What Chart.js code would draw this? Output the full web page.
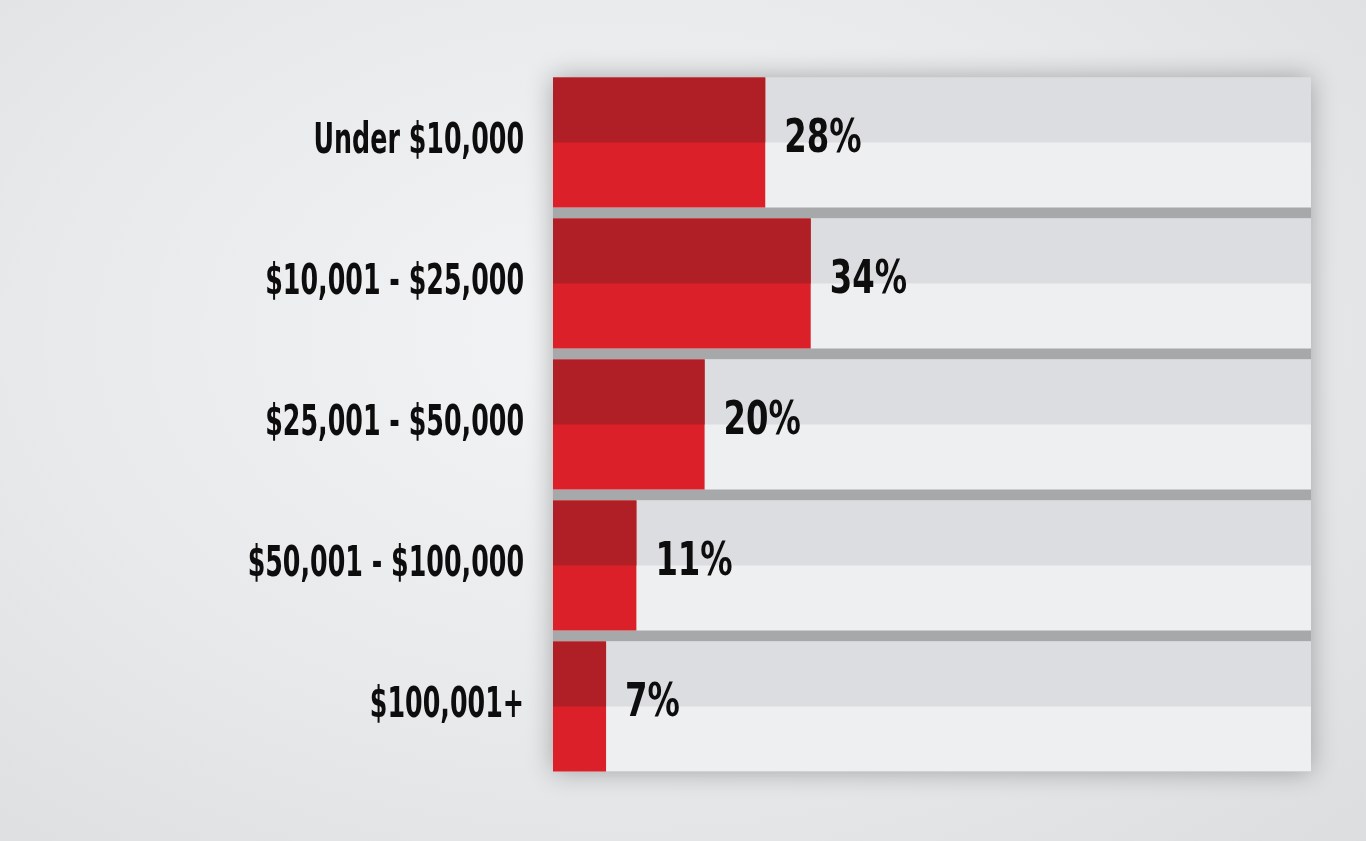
<!DOCTYPE html>
<html lang="en">

<head>
  <meta charset="UTF-8">
  <title>Income Distribution</title>
  <style>
    html, body {
      margin: 0;
      padding: 0;
    }

    body {
      width: 1366px;
      height: 841px;
      overflow: hidden;
      background: radial-gradient(ellipse at 45% 40%, #f3f4f5 0%, #e8e9eb 55%, #dcdddf 100%);
    }

    .chart-container {
      position: relative;
      width: 1366px;
      height: 841px;
    }
  </style>
</head>

<body>
  <div class="chart-container">
    <canvas id="incomeChart"></canvas>
  </div>

  <script src="https://cdn.jsdelivr.net/npm/chart.js"></script>
  <script>
    const categories = ['Under $10,000', '$10,001 - $25,000', '$25,001 - $50,000', '$50,001 - $100,000', '$100,001+'];
    const shares = [28, 34, 20, 11, 7];
    const track = [100, 100, 100, 100, 100];

    const FONT = '"DejaVu Sans Condensed", "DejaVu Sans", sans-serif';

    // draw condensed text (the original uses a narrow DIN-like face)
    function narrowText(ctx, text, x, y, squeeze) {
      ctx.save();
      ctx.translate(x, y);
      ctx.scale(squeeze, 1);
      ctx.fillText(text, 0, 0);
      ctx.restore();
    }

    // panel behind the tracks (gray separators + soft shadow)
    const panel = {
      id: 'panel',
      beforeDatasetsDraw(chart) {
        const meta = chart.getDatasetMeta(0);
        const first = meta.data[0], last = meta.data[meta.data.length - 1];
        const area = chart.chartArea;
        const top = first.y - first.height / 2;
        const bottom = last.y + last.height / 2;
        const ctx = chart.ctx;
        ctx.save();
        ctx.shadowColor = 'rgba(0,0,0,0.3)';
        ctx.shadowBlur = 24;
        ctx.fillStyle = '#a7a8aa';
        ctx.fillRect(area.left, top, area.right - area.left, bottom - top);
        ctx.restore();
      }
    };

    // darker top half on each bar, plus value labels
    const twoTone = {
      id: 'twoTone',
      afterDatasetDraw(chart, args) {
        const ctx = chart.ctx;
        const colour = args.index === 0 ? '#dcdde0' : '#b01f25';
        ctx.save();
        args.meta.data.forEach(bar => {
          const top = bar.y - bar.height / 2;
          ctx.fillStyle = colour;
          ctx.fillRect(bar.base, top, bar.x - bar.base, bar.height / 2);
        });
        if (args.index === 1) {
          ctx.fillStyle = '#0d0d0d';
          ctx.font = 'bold 46px ' + FONT;
          ctx.textAlign = 'left';
          ctx.textBaseline = 'middle';
          args.meta.data.forEach((bar, i) => {
            narrowText(ctx, shares[i] + '%', bar.x + 19, bar.y - 2, 0.78);
          });
        }
        ctx.restore();
      }
    };

    // category labels, positioned from the y scale
    const catLabels = {
      id: 'catLabels',
      afterDraw(chart) {
        const ctx = chart.ctx;
        const y = chart.scales.y;
        ctx.save();
        ctx.fillStyle = '#0d0d0d';
        ctx.font = 'bold 42px ' + FONT;
        ctx.textAlign = 'right';
        ctx.textBaseline = 'middle';
        chart.data.labels.forEach((label, i) => {
          narrowText(ctx, label, y.right - 29, y.getPixelForValue(i), 0.67);
        });
        ctx.restore();
      }
    };

    new Chart(document.getElementById('incomeChart'), {
      type: 'bar',
      data: {
        labels: categories,
        datasets: [{
          label: 'track',
          data: track,
          backgroundColor: '#eeeff0',
          grouped: false,
          order: 2,
          barPercentage: 1,
          categoryPercentage: 0.922
        }, {
          label: 'Share',
          data: shares,
          backgroundColor: '#dc2029',
          grouped: false,
          order: 1,
          barPercentage: 1,
          categoryPercentage: 0.922
        }]
      },
      options: {
        indexAxis: 'y',
        responsive: true,
        maintainAspectRatio: false,
        animation: false,
        layout: {
          padding: { top: 72, bottom: 64, right: 55, left: 0 }
        },
        scales: {
          x: {
            display: false,
            min: 0,
            max: 100
          },
          y: {
            grid: { display: false },
            border: { display: false },
            ticks: { display: false },
            afterFit(scale) {
              scale.width = 553;
            }
          }
        },
        plugins: {
          legend: { display: false },
          tooltip: { enabled: false }
        }
      },
      plugins: [panel, twoTone, catLabels]
    });
  </script>
</body>

</html>
